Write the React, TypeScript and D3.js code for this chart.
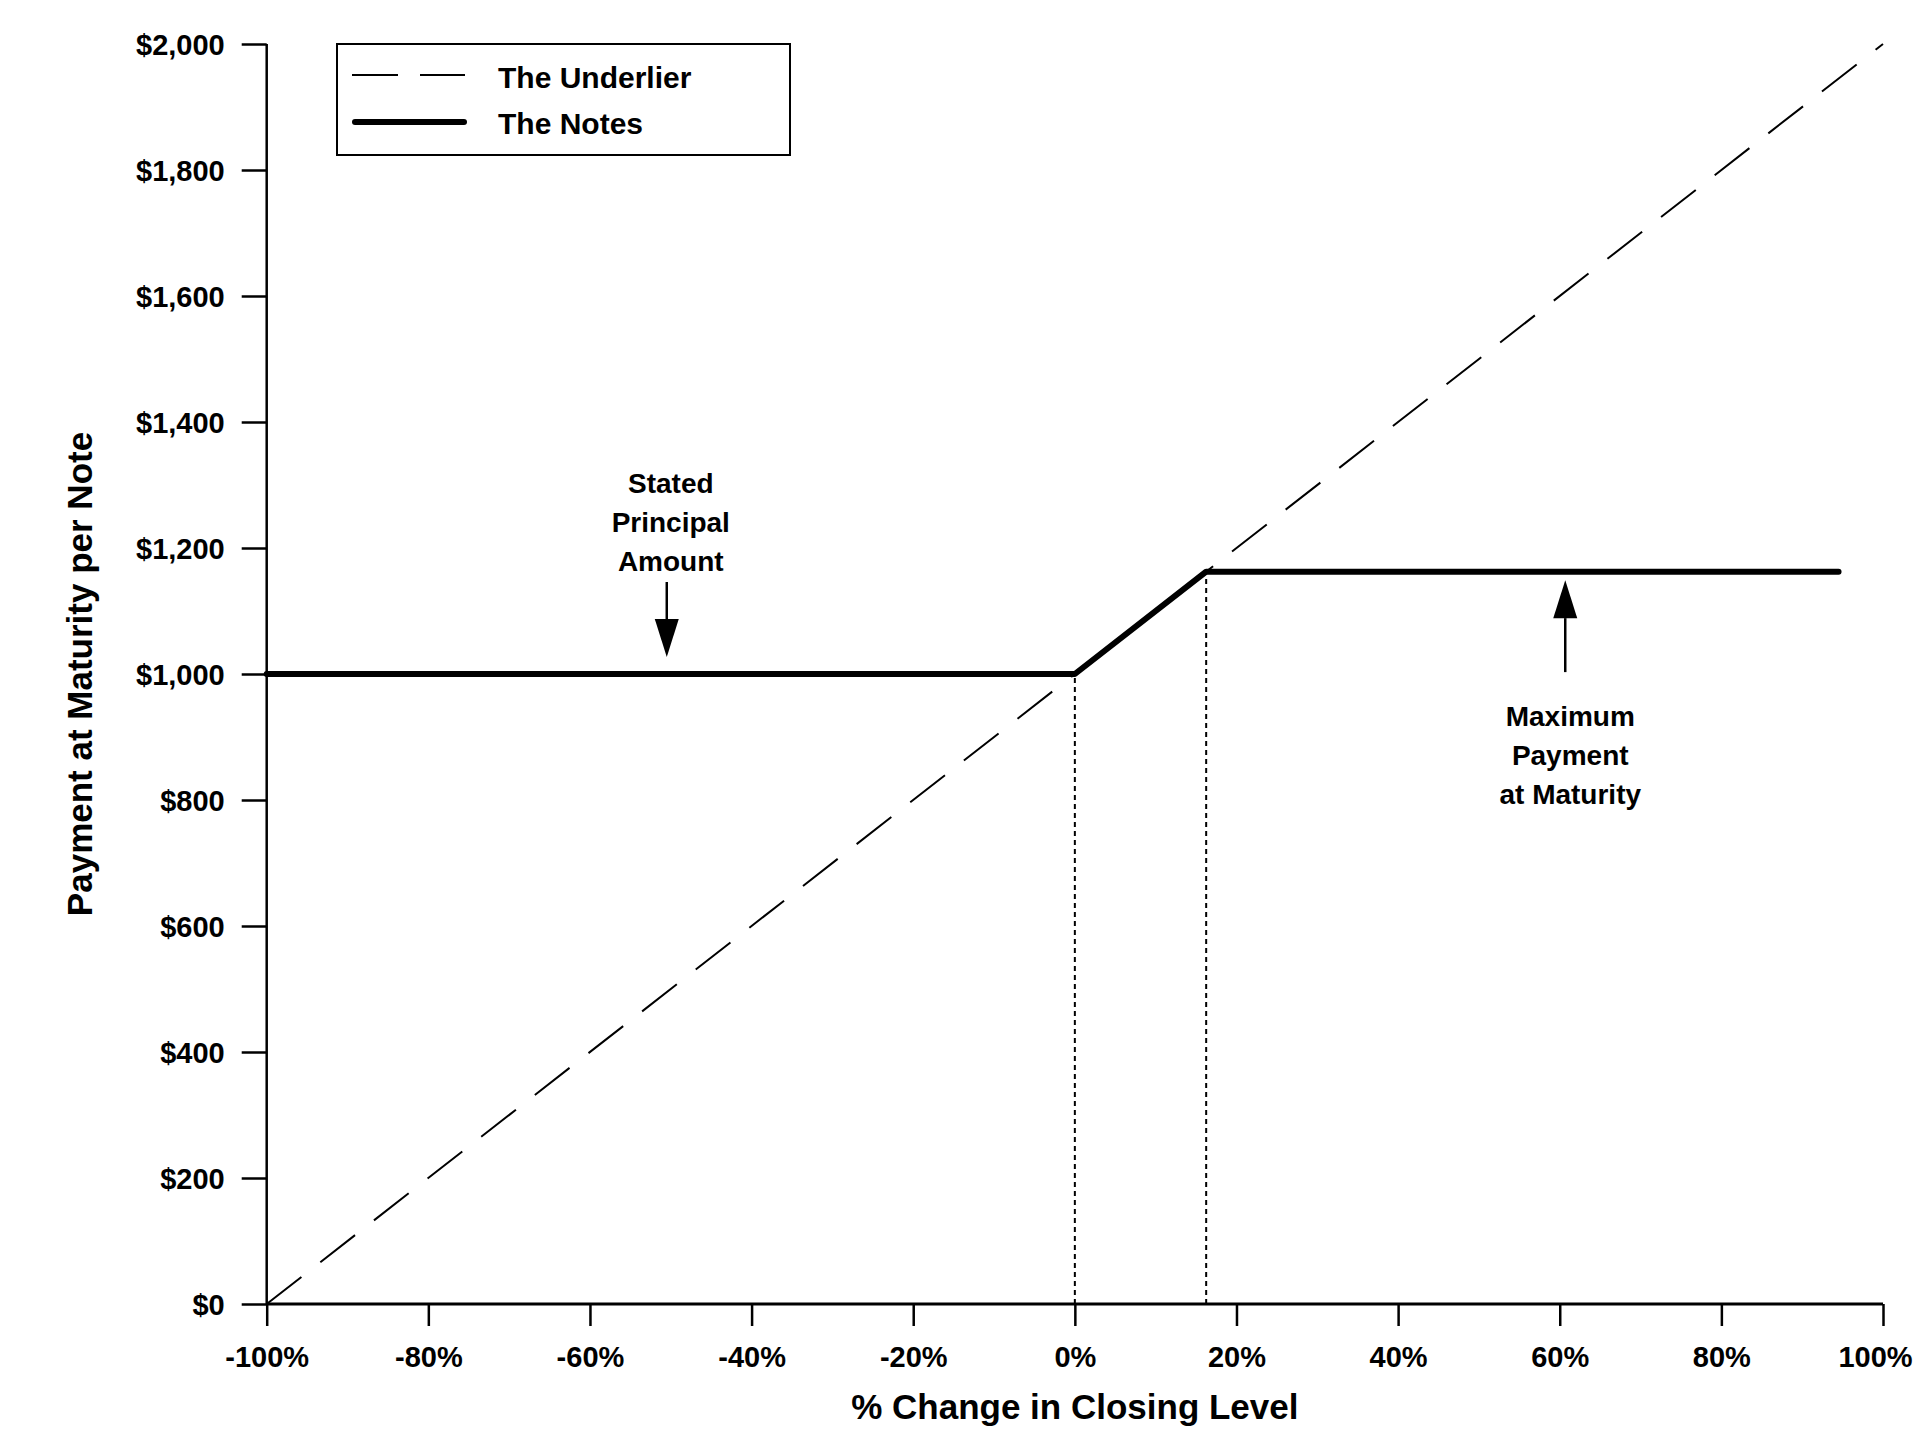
import { useRef, useEffect } from 'react';
import * as d3 from 'd3';

// % change in closing level vs payment per note
const UNDERLIER_X = [-100, 100];
const UNDERLIER_Y = [0, 2000];
const NOTES_X = [-100, 0, 16.25, 94.5];
const NOTES_Y = [1000, 1000, 1162.5, 1162.5];
const GUIDE_X = [0, 16.25];
const GUIDE_Y = [1000, 1162.5];

const X_TICKS = [-100, -80, -60, -40, -20, 0, 20, 40, 60, 80, 100];
const Y_TICKS = [0, 200, 400, 600, 800, 1000, 1200, 1400, 1600, 1800, 2000];

const LEGEND_LABELS = ['The Underlier', 'The Notes'];

const STATED_LINES = ['Stated', 'Principal', 'Amount'];
const MAX_LINES = ['Maximum', 'Payment', 'at Maturity'];

const W = 1915;
const H = 1454;
const FONT = 'Arial, "Liberation Sans", sans-serif';

export default function App() {
  const svgRef = useRef<SVGSVGElement>(null);

  useEffect(() => {
    if (!svgRef.current) return;
    const svg = d3.select(svgRef.current);
    svg.selectAll('*').remove();

    const x = d3.scaleLinear().domain([-100, 100]).range([266.7, 1883]);
    const y = d3.scaleLinear().domain([0, 2000]).range([1304, 44]);

    // axes
    const yAxis = svg.append('g').attr('transform', `translate(${x(-100)},0)`)
      .call(d3.axisLeft(y).tickValues(Y_TICKS).tickSize(25).tickPadding(17)
        .tickFormat((d) => d3.format('$,')(d as number)));
    const xAxis = svg.append('g').attr('transform', `translate(0,${y(0)})`)
      .call(d3.axisBottom(x).tickValues(X_TICKS).tickSize(22).tickPadding(20)
        .tickFormat((d) => `${d}%`));

    [yAxis, xAxis].forEach((g) => {
      g.select('.domain').remove();
      g.selectAll('line').attr('stroke', '#000').attr('stroke-width', 2.5);
      g.selectAll('text')
        .attr('fill', '#000')
        .attr('font-family', FONT)
        .attr('font-size', 29)
        .attr('font-weight', 700);
    });
    yAxis.selectAll('text').attr('dy', '0.35em');
    xAxis.selectAll('text').attr('dy', '0.71em');
    // keep the last label inside the picture
    xAxis.selectAll<SVGTextElement, number>('text')
      .filter((d) => d === 100)
      .attr('dx', -8);

    // axis lines
    svg.append('line')
      .attr('x1', x(-100)).attr('x2', x(-100)).attr('y1', y(2000)).attr('y2', y(0))
      .attr('stroke', '#000').attr('stroke-width', 2.5);
    svg.append('line')
      .attr('x1', x(-100)).attr('x2', x(100)).attr('y1', y(0)).attr('y2', y(0))
      .attr('stroke', '#000').attr('stroke-width', 3);

    // axis titles
    svg.append('text')
      .attr('x', (x(-100) + x(100)) / 2)
      .attr('y', 1419)
      .attr('text-anchor', 'middle')
      .attr('font-family', FONT)
      .attr('font-size', 35)
      .attr('font-weight', 700)
      .text('% Change in Closing Level');

    svg.append('text')
      .attr('transform', `translate(92,${(y(0) + y(2000)) / 2}) rotate(-90)`)
      .attr('text-anchor', 'middle')
      .attr('font-family', FONT)
      .attr('font-size', 35)
      .attr('font-weight', 700)
      .text('Payment at Maturity per Note');

    // dotted guides
    svg.append('g')
      .selectAll('line')
      .data(GUIDE_X)
      .join('line')
      .attr('x1', (d) => x(d)).attr('x2', (d) => x(d))
      .attr('y1', y(0))
      .attr('y2', (_, i) => y(GUIDE_Y[i]))
      .attr('stroke', '#000')
      .attr('stroke-width', 2)
      .attr('stroke-dasharray', '5 4');

    const line = d3.line<[number, number]>().x((d) => x(d[0])).y((d) => y(d[1]));

    // underlier (dashed)
    svg.append('path')
      .attr('d', line(UNDERLIER_X.map((v, i) => [v, UNDERLIER_Y[i]])))
      .attr('fill', 'none')
      .attr('stroke', '#000')
      .attr('stroke-width', 2)
      .attr('stroke-dasharray', '44 24');

    // notes (solid)
    svg.append('path')
      .attr('d', line(NOTES_X.map((v, i) => [v, NOTES_Y[i]])))
      .attr('fill', 'none')
      .attr('stroke', '#000')
      .attr('stroke-width', 6)
      .attr('stroke-linejoin', 'round')
      .attr('stroke-linecap', 'round');

    // legend
    const lg = svg.append('g');
    lg.append('rect')
      .attr('x', 337).attr('y', 44).attr('width', 453).attr('height', 111)
      .attr('fill', '#fff').attr('stroke', '#000').attr('stroke-width', 2);
    lg.append('line')
      .attr('x1', 352).attr('x2', 465).attr('y1', 75).attr('y2', 75)
      .attr('stroke', '#000').attr('stroke-width', 2).attr('stroke-dasharray', '46 22');
    lg.append('line')
      .attr('x1', 355).attr('x2', 464).attr('y1', 122).attr('y2', 122)
      .attr('stroke', '#000').attr('stroke-width', 6).attr('stroke-linecap', 'round');
    lg.selectAll('text.lbl')
      .data(LEGEND_LABELS)
      .join('text')
      .attr('class', 'lbl')
      .attr('x', 498)
      .attr('y', (_, i) => 88 + i * 46)
      .attr('font-family', FONT)
      .attr('font-size', 30)
      .attr('font-weight', 700)
      .text((d) => d);

    // annotations
    function drawArrow(cx: number, from: number, tip: number) {
      const dir = tip > from ? 1 : -1;
      const base = tip - dir * 38;
      svg.append('line')
        .attr('x1', cx).attr('x2', cx).attr('y1', from).attr('y2', base)
        .attr('stroke', '#000').attr('stroke-width', 2.5);
      svg.append('path')
        .attr('d', `M${cx - 12},${base}L${cx + 12},${base}L${cx},${tip}Z`)
        .attr('fill', '#000');
    }

    function drawLabel(lines: string[], cx: number, top: number) {
      svg.append('g')
        .selectAll('text')
        .data(lines)
        .join('text')
        .attr('x', cx)
        .attr('y', (_, i) => top + i * 39)
        .attr('text-anchor', 'middle')
        .attr('font-family', FONT)
        .attr('font-size', 28)
        .attr('font-weight', 700)
        .text((d) => d);
    }

    drawLabel(STATED_LINES, x(-50), 493);
    drawArrow(x(-50) - 4, y(1146), y(1027));

    drawLabel(MAX_LINES, x(61.3), 726);
    drawArrow(x(61.3) - 5, y(1003), y(1149));
  }, []);

  return (
    <svg
      ref={svgRef}
      width={W}
      height={H}
      viewBox={`0 0 ${W} ${H}`}
      style={{ position: 'absolute', left: 0, top: 0, background: '#fff' }}
    />
  );
}
